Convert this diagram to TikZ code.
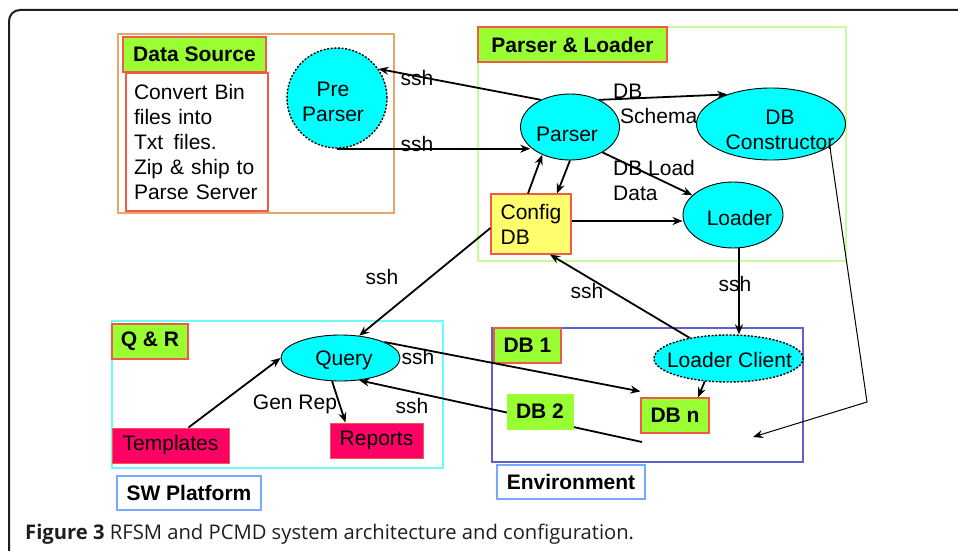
\documentclass[tikz,border=0pt]{standalone}
\usepackage{fontspec}
\setmainfont{Liberation Sans}
\newfontfamily\capfont{Open Sans}
\usetikzlibrary{shapes.geometric,arrows.meta}

\definecolor{tagGreen}{RGB}{153,255,51}
\definecolor{tagRed}{RGB}{240,90,70}
\definecolor{srcOrange}{RGB}{230,165,105}
\definecolor{plGreen}{RGB}{195,255,150}
\definecolor{qrCyan}{RGB}{110,250,250}
\definecolor{envBlue}{RGB}{95,95,205}
\definecolor{tagBlue}{RGB}{120,170,255}
\definecolor{procCyan}{RGB}{0,255,255}
\definecolor{cfgYellow}{RGB}{255,255,110}
\definecolor{outMagenta}{RGB}{255,0,102}
\definecolor{frameInk}{RGB}{30,30,30}

\begin{document}
\begin{tikzpicture}[x=1pt,y=-1pt,
  font=\fontsize{21}{25}\selectfont,
  frame/.style={draw, line width=1.1pt, inner sep=0pt},
  tag/.style={draw=tagRed, fill=tagGreen, line width=1.1pt, inner sep=0pt, font=\fontsize{21}{25}\selectfont\bfseries},
  plaintag/.style={draw=tagBlue, fill=white, line width=1.1pt, inner sep=0pt, font=\fontsize{21}{25}\selectfont\bfseries},
  proc/.style={ellipse, draw, fill=procCyan, line width=0.9pt, inner sep=0pt},
  dotted line/.style={dash pattern=on 2pt off 1.6pt, line width=1.4pt},
  outbox/.style={draw=tagRed, fill=outMagenta, line width=1pt, inner sep=0pt},
  conn/.style={line width=1.8pt, -{Stealth[length=10pt,width=8pt]}},
  thinconn/.style={line width=1pt, -{Stealth[length=10pt,width=8pt]}},
  txt/.style={inner sep=0pt}
]
\useasboundingbox (0,0) rectangle (958,551);

% outer frame, open at the right and bottom
\draw[frameInk, line width=2pt, rounded corners=11pt] (9,552) -- (9,10) -- (960,10);

% ---------------- Data Source ----------------
\node[frame, draw=srcOrange, minimum width=276pt, minimum height=179pt] (dsframe) at (256,123.5) {};
\node[tag, minimum width=143pt, minimum height=35pt] (dstag) at (194.5,54.5) {Data Source};
\node[frame, draw=tagRed, minimum width=142pt, minimum height=138pt, text width=126pt, inner xsep=8pt, align=left] (dsnote) at (197,142)
  {Convert Bin\\files into\\Txt\, files.\\Zip \& ship to\\Parse Server};
\node[circle, draw, fill=procCyan, dotted line, minimum size=100pt, inner sep=0pt] (preparser) at (337,98) {};
\node[txt, align=center] (preparsertxt) at (333,102) {Pre\\Parser};

% ---------------- Parser & Loader ----------------
\node[frame, draw=plGreen, minimum width=368pt, minimum height=234pt] (plframe) at (662,144) {};
\node[tag, minimum width=189pt, minimum height=35pt] (pltag) at (572.5,44.5) {Parser \& Loader};
\node[proc, minimum width=99pt, minimum height=66pt] (parser) at (570,127) {};
\node[txt] (parsertxt) at (567,134) {Parser};
\node[proc, minimum width=149pt, minimum height=72pt] (dbc) at (771,124) {};
\node[txt, align=center] (dbctxt) at (780,130) {DB\\Constructor};
\node[proc, minimum width=100pt, minimum height=66pt] (loader) at (733,215) {};
\node[txt] (loadertxt) at (739.5,218) {Loader};
\node[draw=tagRed, fill=cfgYellow, line width=1.1pt, minimum width=80pt, minimum height=60pt, inner sep=0pt, align=left] (config) at (531,224) {Config\\DB};

% ---------------- Q & R ----------------
\node[frame, draw=qrCyan, minimum width=331pt, minimum height=147pt] (qrframe) at (277.5,394.5) {};
\node[tag, minimum width=76pt, minimum height=35pt] (qrtag) at (150,341.5) {Q \& R};
\node[proc, minimum width=119pt, minimum height=46pt] (query) at (340.5,358) {};
\node[txt] (querytxt) at (344,360) {Query};
\node[outbox, minimum width=117pt, minimum height=35pt] (tmpl) at (170.5,445.5) {Templates};
\node[outbox, minimum width=93pt, minimum height=35pt] (rep) at (376.5,440.5) {Reports};
\node[plaintag, minimum width=144pt, minimum height=34pt] (swtag) at (189,493) {SW Platform};

% ---------------- Environment ----------------
\node[frame, draw=envBlue, minimum width=311pt, minimum height=134pt] (envframe) at (647.5,395) {};
\node[tag, minimum width=67pt, minimum height=35pt] (db1) at (527.5,345.5) {DB 1};
\node[tag, minimum width=68pt, minimum height=35pt] (dbn) at (675,415.5) {DB n};
\node[ellipse, draw, fill=procCyan, dotted line, minimum width=149pt, minimum height=47pt, inner sep=0pt] (lc) at (728.5,358.5) {};
\node[txt] (lctxt) at (729.5,360) {Loader Client};
\node[plaintag, minimum width=148pt, minimum height=34pt] (envtag) at (571,482) {Environment};

% free ends of the open connectors
\coordinate (envpt) at (642,442);
\coordinate (bend) at (867,402);
\coordinate (envin) at (753,437);

% ---------------- connectors ----------------
\draw[conn] (parser.137) -- (preparser.35);
\draw[conn] (preparser.south) -- (preparser.south -| parser.207);
\draw[conn] (parser.43) -- (dbc.146);
\draw[conn] (parser.322) -- (loader.154);
\draw[conn] ([xshift=-3pt]config.north) -- (parser.225);
\draw[conn] (parser.south) -- ([xshift=26pt]config.north);
\draw[conn] ([yshift=3pt]config.east) -- ([yshift=3pt]config.east -| loader.west);
\draw[conn] ([yshift=-4pt]config.west) -- (query.50);
\draw[conn] ([xshift=6pt]loader.south) -- ([xshift=6pt]loader.south |- lc.north);
\draw[conn] (lc.152) -- ([xshift=19pt]config.south);
\draw[conn] (query.20) -- ([yshift=6pt]dbn.north west);
\draw[conn] (envpt) -- (query.310);
\draw[conn] (lc.224) -- ([xshift=23pt]dbn.north);
\draw[thinconn] (dbc.339) -- (bend) -- (envin);
\draw[conn] ([xshift=18pt]tmpl.north) -- (query.west);
\draw[conn] (query.250) -- ([xshift=-31pt]rep.north);

% DB 2 sits over the return line
\node[draw=tagGreen, fill=tagGreen, line width=1pt, inner sep=0pt, minimum width=66pt, minimum height=35pt, font=\fontsize{21}{25}\selectfont\bfseries] (db2) at (540,411.5) {DB 2};

% ---------------- connector labels ----------------
\node[txt] (ssh1) at (417,78) {ssh};
\node[txt] (ssh2) at (417,144) {ssh};
\node[txt, anchor=west] (dbs1) at (613,91) {DB};
\node[txt, anchor=west] (dbs2) at (620,116) {Schema};
\node[txt, anchor=west, align=left] (dbload) at (613,180) {DB Load\\Data};
\node[txt] (ssh3) at (382,277) {ssh};
\node[txt] (ssh4) at (587,291) {ssh};
\node[txt] (ssh5) at (735,284) {ssh};
\node[txt] (ssh6) at (418,357) {ssh};
\node[txt] (ssh7) at (412,406) {ssh};
\node[txt] (genrep) at (295,404) {Gen Rep};

% ---------------- caption ----------------
\node[anchor=base west, inner sep=0pt, text=frameInk, font=\capfont\fontsize{20.2}{23}\selectfont] (caption) at (25,539)
  {\textbf{Figure 3} RFSM and PCMD system architecture and configuration.};
\end{tikzpicture}
\end{document}
